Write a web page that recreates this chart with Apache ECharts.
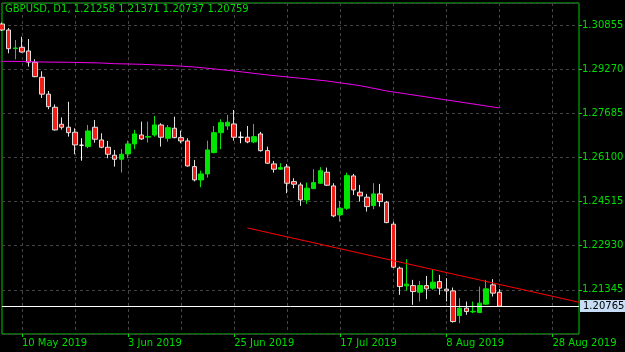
<!DOCTYPE html>
<html lang="en">
<head>
    <meta charset="UTF-8">
    <title>GBPUSD D1</title>
    <script src="https://cdn.jsdelivr.net/npm/echarts@6/dist/echarts.min.js"></script>
    <style>
        html, body { margin: 0; padding: 0; background: #000; }
    </style>
</head>
<body>
<div id="chart" style="width: 625px;height:352px;"></div>
<script>
    // bars (daily)
    var dates = [
        '2019.05.07','2019.05.08','2019.05.09','2019.05.10',
        '2019.05.13','2019.05.14','2019.05.15','2019.05.16','2019.05.17',
        '2019.05.20','2019.05.21','2019.05.22','2019.05.23','2019.05.24',
        '2019.05.27','2019.05.28','2019.05.29','2019.05.30','2019.05.31',
        '2019.06.03','2019.06.04','2019.06.05','2019.06.06','2019.06.07',
        '2019.06.10','2019.06.11','2019.06.12','2019.06.13','2019.06.14',
        '2019.06.17','2019.06.18','2019.06.19','2019.06.20','2019.06.21',
        '2019.06.24','2019.06.25','2019.06.26','2019.06.27','2019.06.28',
        '2019.07.01','2019.07.02','2019.07.03','2019.07.04','2019.07.05',
        '2019.07.08','2019.07.09','2019.07.10','2019.07.11','2019.07.12',
        '2019.07.15','2019.07.16','2019.07.17','2019.07.18','2019.07.19',
        '2019.07.22','2019.07.23','2019.07.24','2019.07.25','2019.07.26',
        '2019.07.29','2019.07.30','2019.07.31','2019.08.01','2019.08.02',
        '2019.08.05','2019.08.06','2019.08.07','2019.08.08','2019.08.09',
        '2019.08.12','2019.08.13','2019.08.14','2019.08.15','2019.08.16',
        '2019.08.19','2019.08.20'
    ];
    // empty space to the right of the last bar
    var futureDates = [
        '2019.08.21','2019.08.22','2019.08.23','2019.08.26','2019.08.27','2019.08.28',
        '2019.08.29','2019.08.30','2019.09.02','2019.09.03','2019.09.04','2019.09.05'
    ];

    var open = [
        1.30891,1.30676,1.30012,1.30055,1.29922,1.29516,1.28978,1.28372,1.27901,1.27291,
        1.27184,1.27004,1.26538,1.26488,1.27184,1.26728,1.26466,1.26179,1.26035,1.26226,
        1.26584,1.26907,1.26829,1.26907,1.27266,1.26789,1.27148,1.26811,1.26692,1.25770,
        1.25293,1.25508,1.26272,1.26990,1.27230,1.27302,1.26825,1.26825,1.26656,1.26943,
        1.26344,1.25867,1.25677,1.25759,1.25232,1.25113,1.24575,1.24980,1.25174,1.25569,
        1.25077,1.24037,1.24277,1.25436,1.24851,1.24672,1.24370,1.24790,1.24492,1.23703,
        1.22124,1.21489,1.21499,1.21262,1.21499,1.21406,1.21643,1.21370,1.21309,1.20423,
        1.20688,1.20555,1.20530,1.20832,1.21524,1.21258
    ];
    var close = [
        1.30676,1.30005,1.30030,1.29886,1.29520,1.29000,1.28372,1.27923,1.27087,1.27184,
        1.26990,1.26549,1.26538,1.27051,1.26753,1.26466,1.26215,1.26035,1.26215,1.26584,
        1.26943,1.26764,1.26854,1.27266,1.26825,1.27169,1.26811,1.26692,1.25795,1.25293,
        1.25508,1.26369,1.26990,1.27349,1.27363,1.26825,1.26825,1.26656,1.26846,1.26344,
        1.25892,1.25677,1.25734,1.25174,1.25138,1.24575,1.24995,1.25196,1.25626,1.25102,
        1.24001,1.24277,1.25447,1.24934,1.24718,1.24334,1.24790,1.24514,1.23760,1.22160,
        1.21463,1.21550,1.21284,1.21499,1.21381,1.21621,1.21406,1.21309,1.20207,1.20688,
        1.20566,1.20573,1.20868,1.21381,1.21227,1.20759
    ];
    var high = [
        1.30945,1.30747,1.30317,1.30435,1.30353,1.29624,1.29193,1.28486,1.28002,1.27535,
        1.28099,1.27148,1.26789,1.27266,1.27446,1.26968,1.26692,1.26369,1.26405,1.26703,
        1.27087,1.27385,1.27385,1.27589,1.27327,1.27266,1.27564,1.27062,1.26789,1.26010,
        1.25626,1.26703,1.27230,1.27471,1.27625,1.27805,1.27026,1.27230,1.27302,1.27015,
        1.26488,1.25974,1.25892,1.25867,1.25354,1.25196,1.25196,1.25677,1.25748,1.25734,
        1.25174,1.24539,1.25555,1.25508,1.25113,1.24790,1.25174,1.25149,1.24539,1.23796,
        1.22181,1.22447,1.21704,1.21668,1.21847,1.22063,1.21883,1.21765,1.21428,1.21047,
        1.20925,1.20925,1.21463,1.21704,1.21729,1.21371
    ];
    var low = [
        1.30640,1.29839,1.29624,1.29861,1.29359,1.28978,1.28235,1.27830,1.27062,1.27098,
        1.26846,1.26215,1.25985,1.26430,1.26631,1.26430,1.26071,1.25770,1.25555,1.26071,
        1.26394,1.26728,1.26631,1.26846,1.26488,1.26667,1.26789,1.26610,1.25770,1.25239,
        1.25031,1.25375,1.26251,1.26394,1.27087,1.26703,1.26610,1.26610,1.26610,1.26308,
        1.25867,1.25555,1.25651,1.24815,1.24995,1.24360,1.24431,1.24959,1.25149,1.25077,
        1.23954,1.23796,1.24216,1.24754,1.24514,1.24155,1.24241,1.24334,1.23739,1.22124,
        1.21166,1.21320,1.20807,1.20925,1.21011,1.21345,1.21166,1.20925,1.20171,1.20150,
        1.20448,1.20509,1.20509,1.20807,1.21105,1.20737
    ];

    // moving average, read at some bars
    var maIndex = [0, 3, 6, 10, 15, 17, 21, 26, 29, 31, 35, 40, 45, 49, 54, 58, 61, 68, 75];
    var maValue = [1.29552,1.29545,1.29527,1.29516,1.29491,1.29466,1.29444,1.29394,1.29347,1.29300,
                   1.29204,1.29061,1.28942,1.28845,1.28677,1.28487,1.28379,1.28128,1.27876];

    // trend line
    var trendIndex = [37, 87];
    var trendValue = [1.23568, 1.20900];

    // horizontal level
    var levelValue = 1.20765;

    // axis labels
    var tickIndex = [3, 19, 35, 51, 67, 83];
    var tickLabels = ['10 May 2019', '3 Jun 2019', '25 Jun 2019', '17 Jul 2019', '8 Aug 2019', '28 Aug 2019'];
    var priceMin = 1.19760, priceMax = 1.31645, priceStep = 0.01585;

    var fg = '#00dd00';
    var font = 'DejaVu Sans';

    var candleData = dates.map(function (d, i) {
        var item = { value: [open[i], close[i], low[i], high[i]] };
        if (open[i] === close[i]) {
            // doji drawn white
            item.itemStyle = { color: '#fff', color0: '#fff', borderColor: '#fff', borderColor0: '#fff' };
        }
        return item;
    });

    var myChart = echarts.init(document.getElementById('chart'));
    var option = {
        backgroundColor: '#000',
        animation: false,
        title: {
            text: 'GBPUSD, D1, 1.21258 1.21371 1.20737 1.20759',
            left: 5,
            top: 4,
            padding: 0,
            textStyle: { color: fg, fontSize: 10, fontWeight: 'normal', fontFamily: font }
        },
        grid: {
            left: 2, right: 46, top: 3, bottom: 18,
            show: true,
            borderColor: '#00c800',
            borderWidth: 1,
            containLabel: false,
            outerBoundsMode: 'none'
        },
        xAxis: {
            type: 'category',
            data: dates.concat(futureDates),
            boundaryGap: false,
            axisLine: { show: false },
            axisTick: {
                show: true,
                length: 3,
                interval: function (i) { return tickIndex.indexOf(i) >= 0; },
                lineStyle: { color: fg }
            },
            axisLabel: {
                interval: function (i) { return tickIndex.indexOf(i) >= 0; },
                formatter: function (v, i) { return tickLabels[tickIndex.indexOf(i)]; },
                align: 'left',
                margin: 4,
                color: fg,
                fontSize: 10,
                fontFamily: font
            },
            splitLine: {
                show: true,
                interval: function (i) { return (i - 3) % 8 === 0; },
                lineStyle: { color: '#444', type: [3, 3], width: 1 }
            }
        },
        yAxis: {
            type: 'value',
            position: 'right',
            min: priceMin,
            max: priceMax,
            interval: priceStep,
            scale: true,
            axisLine: { show: false },
            axisTick: { show: true, length: 3, lineStyle: { color: fg } },
            axisLabel: {
                showMinLabel: false,
                showMaxLabel: false,
                margin: 3,
                color: fg,
                fontSize: 10,
                fontFamily: font,
                formatter: function (v) { return v.toFixed(5); }
            },
            splitLine: { show: true, lineStyle: { color: '#444', type: [3, 3], width: 1 } }
        },
        series: [
            {
                type: 'candlestick',
                data: candleData,
                barWidth: 5,
                clip: true,
                itemStyle: {
                    color: '#00e600',
                    color0: '#f01e14',
                    borderColor: '#00e600',
                    borderColor0: '#e0e0e0',
                    borderWidth: 1
                }
            },
            {
                type: 'line',
                data: maIndex.map(function (x, k) { return [x, maValue[k]]; }),
                showSymbol: false,
                symbol: 'none',
                lineStyle: { color: '#ee00ee', width: 1 },
                z: 3
            },
            {
                type: 'line',
                data: trendIndex.map(function (x, k) { return [x, trendValue[k]]; }),
                showSymbol: false,
                symbol: 'none',
                lineStyle: { color: '#ff0000', width: 1 },
                z: 3,
                markLine: {
                    silent: true,
                    symbol: 'none',
                    precision: 5,
                    lineStyle: { color: '#ffffff', type: 'solid', width: 1 },
                    label: {
                        position: 'end',
                        distance: 1,
                        formatter: levelValue.toFixed(5),
                        color: '#000',
                        backgroundColor: '#c6ddf5',
                        padding: [1, 3, 1, 3],
                        fontSize: 10,
                        fontFamily: font
                    },
                    data: [{ yAxis: levelValue }]
                }
            }
        ]
    };
    myChart.setOption(option);
</script>
</body>
</html>
